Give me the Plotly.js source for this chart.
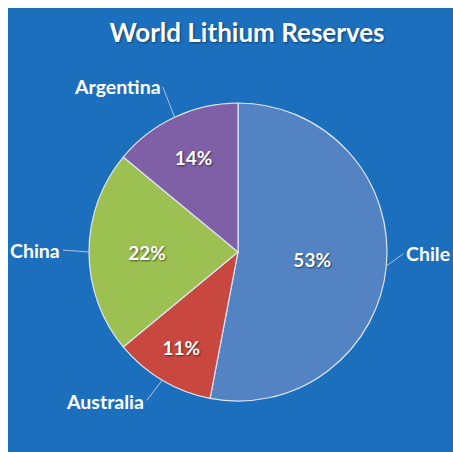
<!DOCTYPE html>
<html><head><meta charset="utf-8">
<script src="https://cdn.plot.ly/plotly-3.0.1.min.js"></script>
<style>html,body{margin:0;padding:0;background:#fff;}#chart{width:453px;height:452px;}</style>
</head><body><div id="chart"></div>
<script>
// Data
const countries = ["Chile", "Australia", "China", "Argentina"];
const shares = [53, 11, 22, 14];
const sliceColors = ["#5383c3", "#c8473f", "#9cc152", "#7f60a7"];

// Layout-only constants
const W = 453, H = 452;
const cx = 238, cy = 252, R = 149; // pie centre/radius in pixels
// label offsets (pixels) from slice edge point, and anchor side
const labelOffsets = [[18, -13, "left"], [-16, 21, "right"], [-27, -2, "right"], [-12, -31, "right"]];
const FONT = "Lato, 'Open Sans', sans-serif";

const total = shares.reduce((a, b) => a + b, 0);
let cum = 0;
const annotations = [];
shares.forEach((v, i) => {
  const mid = (cum + v / 2) / total * 2 * Math.PI;
  cum += v;
  const px = cx + R * Math.sin(mid);
  const py = cy - R * Math.cos(mid);
  const off = labelOffsets[i];
  annotations.push({
    x: px / W, y: 1 - py / H, xref: "paper", yref: "paper",
    text: countries[i], showarrow: true, arrowhead: 0, arrowwidth: 1,
    arrowcolor: "#a9c4e4", ax: off[0], ay: off[1], xanchor: off[2], yanchor: "middle",
    standoff: 0, startstandoff: 1,
    font: {family: FONT, size: 19.5, color: "#ffffff", weight: "bold"}
  });
});

const data = [{
  type: "pie",
  labels: countries,
  values: shares,
  sort: false,
  direction: "clockwise",
  rotation: 0,
  textinfo: "percent",
  textposition: "inside",
  insidetextorientation: "horizontal",
  texttemplate: "%{percent:.0%}",
  insidetextfont: {family: FONT, size: 19, color: "#ffffff", weight: "bold", shadow: "1px 1px 2px rgba(0,0,0,0.55)"},
  marker: {colors: sliceColors, line: {color: "#dce6f1", width: 1.2}},
  domain: {x: [(cx - R) / W, (cx + R) / W], y: [(H - cy - R) / H, (H - cy + R) / H]},
  hoverinfo: "none",
  showlegend: false
}];

const layout = {
  width: W, height: H,
  margin: {l: 0, r: 0, t: 0, b: 0},
  paper_bgcolor: "#ffffff",
  showlegend: false,
  title: {
    text: "World Lithium Reserves",
    x: 247 / W, xanchor: "center", y: 1 - 33 / H, yanchor: "middle",
    font: {family: FONT, size: 26, color: "#ffffff", weight: "bold", shadow: "1px 1px 2px rgba(0,0,0,0.45)"}
  },
  shapes: [{
    type: "rect", xref: "paper", yref: "paper", layer: "below",
    x0: 8 / W, x1: 1, y0: 0, y1: 1 - 8 / H,
    fillcolor: "#1c6fbd", line: {width: 0}
  }],
  annotations: annotations
};

Plotly.newPlot("chart", data, layout, {displayModeBar: false, staticPlot: true});
</script></body></html>
